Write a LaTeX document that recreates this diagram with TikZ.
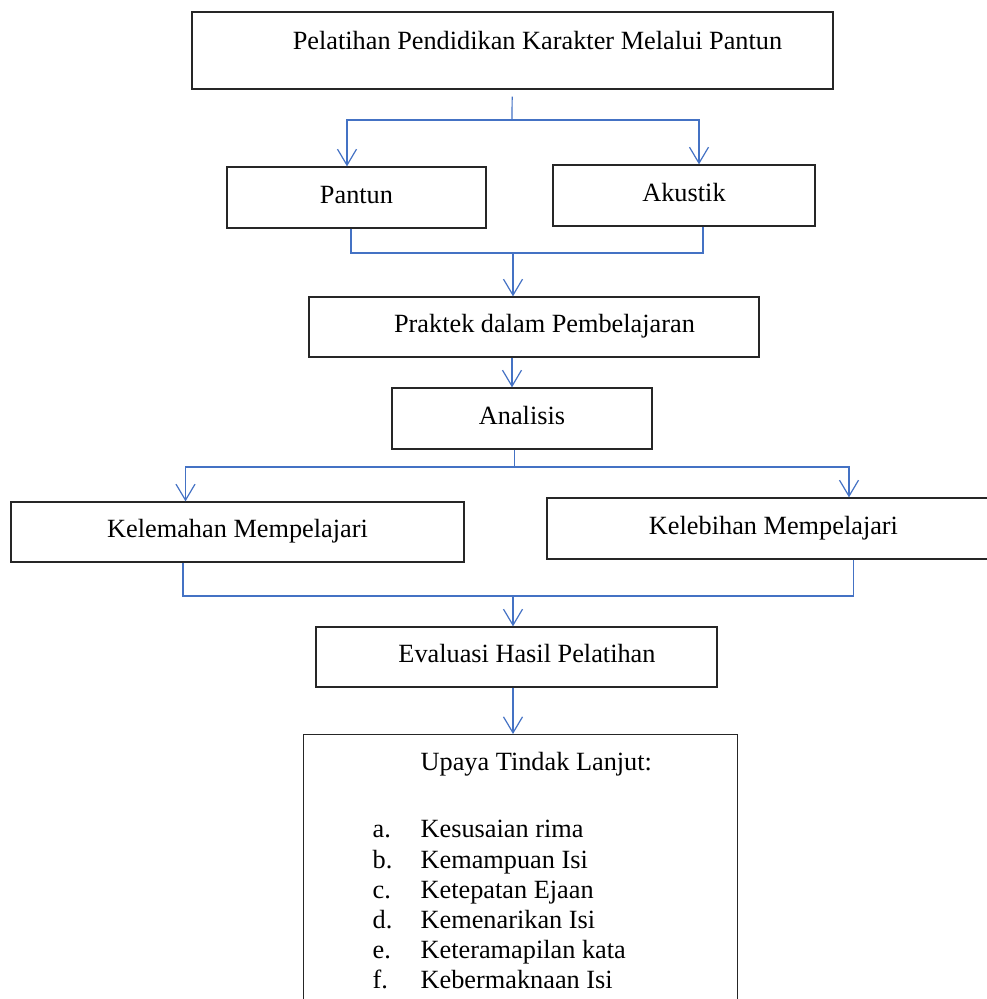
\documentclass[tikz,border=0pt]{standalone}
\usepackage{fontspec}
\setmainfont{Liberation Serif}
\usetikzlibrary{arrows.meta}
\definecolor{linkblue}{HTML}{4472C4}

\begin{document}
\begin{tikzpicture}[%
    x=1pt, y=-1pt,
    frame/.style={%
        draw=black!85,
        line width=1.3pt,
        inner sep=0pt,
        font=\fontsize{26.3}{30.2}\selectfont
    },
    box/.style={%
        frame,
        text height=17.8pt,
        text depth=6pt
    },
    link/.style={%
        draw=linkblue,
        line width=1.2pt
    },
    >={Straight Barb[length=16pt, width=19pt]}
]
\useasboundingbox (0,0) rectangle (987,999);
\clip (0,0) rectangle (987,999);

% Title
    \node[box, minimum width=641, minimum height=77, text depth=20pt] (title) at (512.5, 50.5) {\hspace*{50pt}Pelatihan Pendidikan Karakter Melalui Pantun};

% Materials
    \node[box, minimum width=259, minimum height=61] (pantun) at (356.5, 197.5) {Pantun};
    \node[box, minimum width=262, minimum height=61] (akustik) at (684, 195.5) {Akustik};

% Practice and analysis
    \node[box, minimum width=450, minimum height=60] (praktek) at (534, 327) {\hspace*{21pt}Praktek dalam Pembelajaran};
    \node[box, minimum width=260, minimum height=61] (analisis) at (522, 418.5) {Analisis};

% Results
    \node[box, minimum width=453, minimum height=60] (kelemahan) at (237.5, 532) {Kelemahan Mempelajari};
    \node[box, minimum width=453, minimum height=61] (kelebihan) at (773.5, 528.5) {Kelebihan Mempelajari};

% Evaluation
    \node[box, minimum width=401, minimum height=60] (evaluasi) at (516.5, 657) {\hspace*{21pt}Evaluasi Hasil Pelatihan};

% Follow up
    \node[frame, anchor=north west, text width=296pt, inner xsep=69pt, inner ysep=18pt, align=flush left] (upaya) at (303, 734) {%
        \hspace*{48pt}Upaya Tindak Lanjut:\\[36.8pt]
        \makebox[48pt][l]{a.}Kesusaian rima\\
        \makebox[48pt][l]{b.}Kemampuan Isi\\
        \makebox[48pt][l]{c.}Ketepatan Ejaan\\
        \makebox[48pt][l]{d.}Kemenarikan Isi\\
        \makebox[48pt][l]{e.}Keteramapilan kata\\
        \makebox[48pt][l]{f.}Kebermaknaan Isi};

% Junctions
    \coordinate (split1) at (512, 120);
    \coordinate (merge1) at (513, 253);
    \coordinate (split2) at (514.5, 467);
    \coordinate (merge2) at (513, 596);

% Arrows
\draw[link, shorten <=7pt] (title) -- (split1);
\draw[link, ->] (split1) -| ([xshift=-9.5pt]pantun.north);
\draw[link, ->] (split1) -| ([xshift=15pt]akustik.north);

\draw[link] ([xshift=-5.5pt]pantun.south) |- (merge1);
\draw[link] ([xshift=19pt]akustik.south) |- (merge1);
\draw[link, ->] (merge1) -- (merge1 |- praktek.north);

\draw[link, ->] ([xshift=-22pt]praktek.south) -- ([xshift=-22pt]praktek.south |- analisis.north);

\draw[link] ([xshift=-7.5pt]analisis.south) -- (split2);
\draw[link, ->] (split2) -| ([xshift=-52pt]kelemahan.north);
\draw[link, ->] (split2) -| ([xshift=75.5pt]kelebihan.north);

\draw[link] ([xshift=-54.5pt]kelemahan.south) |- (merge2);
\draw[link] ([xshift=80pt]kelebihan.south) |- (merge2);
\draw[link, ->] (merge2) -- (merge2 |- evaluasi.north);

\draw[link, ->] ([xshift=-3.5pt]evaluasi.south) -- ([xshift=-3.5pt]evaluasi.south |- upaya.north);

\end{tikzpicture}
\end{document}
